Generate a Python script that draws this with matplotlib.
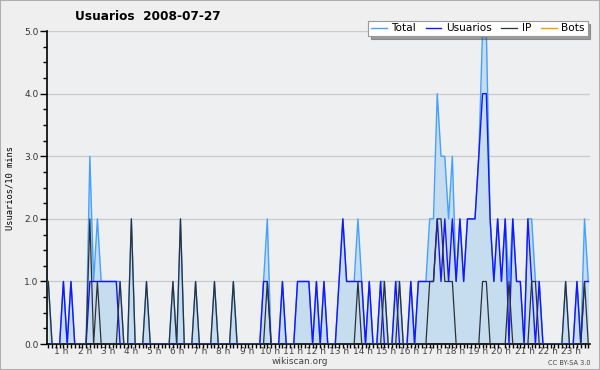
import numpy as np
import matplotlib
matplotlib.use("Agg")
from matplotlib import pyplot as plt
from matplotlib.ticker import MultipleLocator, FixedLocator, NullFormatter
from matplotlib.patches import Rectangle

title = "Usuarios  2008-07-27"
hour_labels = [f"{h} h" for h in range(1, 24)]

# one value per 10 minutes (144 per day)
usuarios = [
    0, 0, 0, 0, 1, 0, 1, 0, 0, 0, 0, 1,
    1, 1, 1, 1, 1, 1, 1, 0, 0, 0, 0, 0,
    0, 0, 0, 0, 0, 0, 0, 0, 0, 0, 0, 0,
    0, 0, 0, 0, 0, 0, 0, 0, 0, 0, 0, 0,
    0, 0, 0, 0, 0, 0, 0, 0, 0, 1, 1, 0,
    0, 0, 1, 0, 0, 0, 1, 1, 1, 1, 0, 1,
    0, 1, 0, 0, 0, 1, 2, 1, 1, 1, 1, 1,
    0, 1, 0, 0, 1, 0, 0, 0, 1, 0, 0, 0,
    1, 0, 1, 1, 1, 1, 1, 2, 1, 2, 1, 2,
    1, 2, 1, 2, 2, 2, 3, 4, 4, 2, 1, 2,
    1, 2, 0, 2, 1, 1, 0, 2, 1, 0, 1, 0,
    0, 0, 0, 0, 0, 0, 0, 0, 1, 0, 1, 1,
]
ip = [
    1, 0, 0, 0, 0, 0, 0, 0, 0, 0, 0, 2,
    0, 1, 0, 0, 0, 0, 0, 1, 0, 0, 2, 0,
    0, 0, 1, 0, 0, 0, 0, 0, 0, 1, 0, 2,
    0, 0, 0, 1, 0, 0, 0, 0, 1, 0, 0, 0,
    0, 1, 0, 0, 0, 0, 0, 0, 0, 0, 1, 0,
    0, 0, 0, 0, 0, 0, 0, 0, 0, 0, 0, 0,
    0, 0, 0, 0, 0, 0, 0, 0, 0, 0, 1, 0,
    0, 0, 0, 0, 0, 1, 0, 0, 0, 1, 0, 0,
    0, 0, 0, 0, 0, 1, 1, 2, 2, 1, 1, 1,
    0, 0, 0, 0, 0, 0, 0, 1, 1, 0, 0, 0,
    0, 0, 1, 0, 0, 0, 0, 0, 1, 1, 0, 0,
    0, 0, 0, 0, 0, 1, 0, 0, 0, 0, 1, 0,
]
bots = [0] * 144

x = np.arange(len(usuarios))
total = np.array(usuarios) + np.array(ip) + np.array(bots)

fig = plt.figure(figsize=(6, 3.7), dpi=100, facecolor="#efefef")
fig.patches.append(Rectangle((0, 0), 1, 1, transform=fig.transFigure,
                             fill=False, edgecolor="#b0b0b0", lw=1.5))
ax = fig.add_axes([0.078, 0.070, 0.905, 0.846], facecolor="#eeeff1")

#grid
ax.yaxis.grid(True, color="#cccccc", lw=1)
ax.set_axisbelow(True)

ax.fill_between(x, total, color="#c6dcef", lw=0, zorder=2)
ax.plot(x, bots, color="#ff9900", lw=1, zorder=2.5)
l_total, = ax.plot(x, total, color="#45a0ff", lw=1, zorder=3, label="Total")
l_users, = ax.plot(x, usuarios, color="#1515ff", lw=1, zorder=4, label="Usuarios")
l_ip, = ax.plot(x, ip, color="#2c3138", lw=0.9, zorder=5, label="IP")
l_bots, = ax.plot([], [], color="#ff9900", lw=1, label="Bots")

ax.set_xlim(-0.4, 143.4)
ax.set_ylim(0, 5)

for s in ["top", "right"]:
    ax.spines[s].set_visible(False)
ax.spines["left"].set_linewidth(1.2)
ax.spines["bottom"].set_linewidth(1.2)

#y ticks
ax.yaxis.set_major_locator(MultipleLocator(1))
ax.yaxis.set_minor_locator(MultipleLocator(0.25))
ax.set_yticklabels([f"{v:.1f}" for v in ax.get_yticks()])
ax.tick_params(axis="y", which="major", length=5, width=1, labelsize=6.5,
               labelcolor="#333333", pad=1)
ax.tick_params(axis="y", which="minor", length=3, width=1)

#x ticks: one per 10 min, labels per hour
ax.xaxis.set_minor_locator(MultipleLocator(1))
ax.xaxis.set_minor_formatter(NullFormatter())
ax.xaxis.set_major_locator(FixedLocator([6.13 * h - 2.6 for h in range(1, 24)]))
ax.set_xticklabels(hour_labels)
ax.tick_params(axis="x", which="major", length=0, labelsize=6.5,
               labelcolor="#444444", pad=2)
ax.tick_params(axis="x", which="minor", length=3, width=1)

ax.set_ylabel("Usuarios/10 mins", family="DejaVu Sans Mono", fontsize=6.3,
              labelpad=7)
fig.text(0.125, 0.955, title, fontsize=8.7, fontweight="bold", va="center")
fig.text(0.5, 0.022, "wikiscan.org", fontsize=6.5, color="#444444",
         ha="center", va="center")
fig.text(0.985, 0.018, "CC BY-SA 3.0", fontsize=4.8, color="#444444",
         ha="right", va="center")

leg = fig.legend(handles=[l_total, l_users, l_ip, l_bots], ncol=4,
                 loc="upper right", bbox_to_anchor=(0.988, 0.958),
                 fontsize=7.6, frameon=True, fancybox=False, shadow=True,
                 handlelength=1.5, handletextpad=0.45, columnspacing=0.9,
                 borderpad=0.25, edgecolor="#999999")
leg.get_frame().set_linewidth(0.8)

plt.savefig("out.png", dpi=100, facecolor=fig.get_facecolor())
